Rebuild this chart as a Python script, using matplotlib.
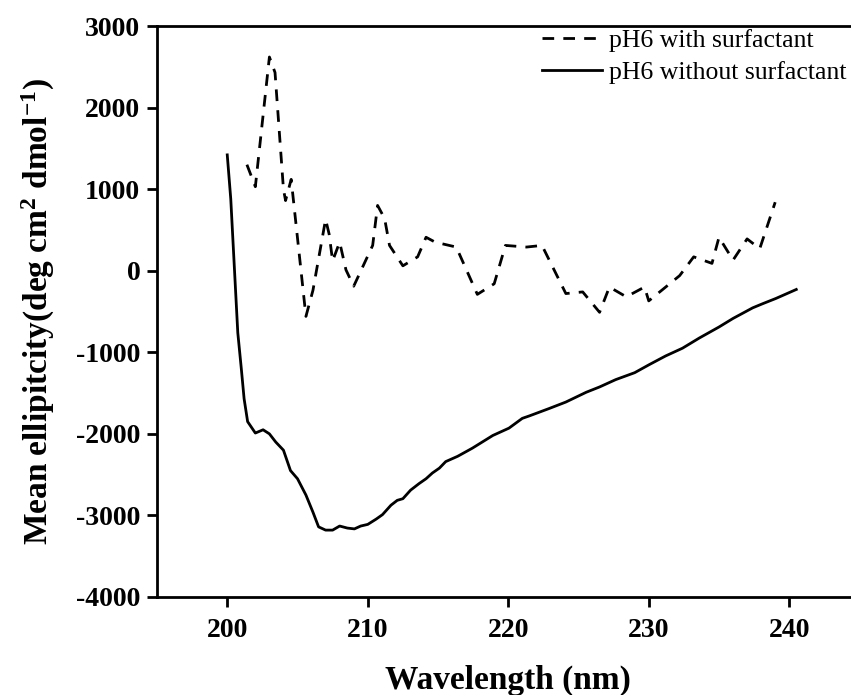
import numpy as np
import matplotlib
matplotlib.use('Agg')
import matplotlib.pyplot as plt

plt.rcParams['font.family'] = 'Liberation Serif'
plt.rcParams['mathtext.fontset'] = 'custom'
plt.rcParams['mathtext.rm'] = 'Liberation Serif:bold'
plt.rcParams['mathtext.bf'] = 'Liberation Serif:bold'
plt.rcParams['mathtext.it'] = 'Liberation Serif:bold:italic'
plt.rcParams['axes.unicode_minus'] = False

# pH6 without surfactant (solid)
wl_plain = [200.0, 200.25, 200.5, 200.75, 201.0, 201.2, 201.45, 202.0, 202.55, 203.0,
            203.45, 204.0, 204.5, 205.0, 205.6, 206.1, 206.5, 207.0, 207.5, 208.0,
            208.55, 209.05, 209.5, 210.0, 210.6, 211.05, 211.65, 212.1, 212.5, 213.05,
            213.65, 214.15, 214.6, 215.1, 215.55, 216.4, 217.45, 218.9, 220.05, 221.0,
            221.5, 222.9, 224.1, 225.55, 226.5, 227.65, 229.0, 230.05, 231.2, 232.4,
            233.6, 235.0, 236.0, 237.4, 238.1, 239.05, 240.5]
cd_plain = [1420, 880, 60, -760, -1200, -1570, -1850, -1990, -1950, -2000,
            -2100, -2200, -2450, -2550, -2750, -2960, -3140, -3180, -3180, -3130,
            -3155, -3165, -3130, -3110, -3045, -2990, -2875, -2815, -2795, -2690,
            -2610, -2550, -2480, -2420, -2340, -2275, -2175, -2020, -1930, -1810,
            -1780, -1690, -1610, -1490, -1425, -1335, -1250, -1150, -1045, -950,
            -825, -690, -585, -455, -405, -340, -230]

# pH6 with surfactant (dashed)
wl_surf = [201.4, 202.0, 203.0, 203.4, 204.0, 204.15, 204.55, 205.6, 206.1, 207.0,
           207.25, 207.5, 208.0, 208.45, 209.0, 210.35, 210.7, 211.2, 211.55, 212.5,
           213.55, 214.15, 214.8, 216.3, 217.8, 219.0, 219.8, 221.3, 222.4, 224.1,
           225.3, 226.5, 227.2, 228.4, 229.7, 230.0, 232.2, 233.2, 234.5, 235.0,
           236.0, 237.0, 237.9, 239.0]
cd_surf = [1300, 1030, 2620, 2430, 1000, 860, 1120, -560, -240, 630,
           450, 120, 350, 10, -190, 310, 800, 640, 310, 60,
           170, 410, 350, 290, -290, -160, 310, 290, 310, -280,
           -260, -510, -200, -320, -200, -370, -60, 170, 90, 410,
           130, 390, 270, 840]

fig = plt.figure(figsize=(8.51, 6.95), dpi=100)
ax = fig.add_axes([157 / 851, 1 - 597 / 695, 702.5 / 851, 571 / 695])

ax.plot(wl_surf, cd_surf, color='black', lw=2, linestyle=(0, (4.2, 3.3)),
        label='pH6 with surfactant')
ax.plot(wl_plain, cd_plain, color='black', lw=2, label='pH6 without surfactant')

ax.set_xlim(195, 245)
ax.set_ylim(-4000, 3000)
ax.set_xticks([200, 210, 220, 230, 240])
ax.set_yticks(np.arange(-4000, 3001, 1000))

for side in ['left', 'bottom', 'top', 'right']:
    ax.spines[side].set_linewidth(2)

ax.tick_params(direction='out', length=7, width=2, labelsize=20, pad=5)
ax.tick_params(axis='x', pad=8)
for lab in ax.get_xticklabels() + ax.get_yticklabels():
    lab.set_fontweight('bold')

ax.set_xlabel('Wavelength (nm)', fontsize=24, fontweight='bold')
ax.set_ylabel('Mean ellipitcity(deg cm$^2$ dmol$^{-1}$)', fontsize=24, fontweight='bold')
ax.xaxis.set_label_coords(0.5, -0.1454)
ax.xaxis.label.set_verticalalignment('center')
ax.yaxis.set_label_coords(-0.1694, 0.5)
ax.yaxis.label.set_verticalalignment('center')

ax.legend(loc='upper left', bbox_to_anchor=(542 / 851, 1 - 29 / 695),
          bbox_transform=fig.transFigure, frameon=False, fontsize=18.5,
          borderpad=0, borderaxespad=0, handlelength=2.35, handletextpad=0.25,
          labelspacing=0.36)

fig.savefig('out.png', dpi=100)
